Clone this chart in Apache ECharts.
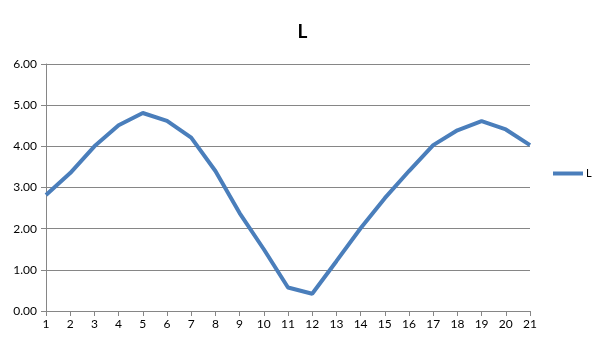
<!DOCTYPE html>
<html><head><meta charset="utf-8">
<script src="https://cdn.jsdelivr.net/npm/echarts@6/dist/echarts.min.js"></script>
<style>html,body{margin:0;padding:0;background:#fff}#c{width:605px;height:340px}</style>
</head><body><div id="c"></div>
<script>
const categories = ['1','2','3','4','5','6','7','8','9','10','11','12','13','14','15','16','17','18','19','20','21'];
const values = [2.82,3.35,4.0,4.51,4.81,4.62,4.21,3.4,2.38,1.5,0.57,0.42,1.21,2.01,2.74,3.4,4.03,4.39,4.61,4.41,4.03];
const yTicks = {min:0, max:6, interval:1};
const chart = echarts.init(document.getElementById('c'));
const F = 'Lato, "Open Sans", sans-serif';
chart.setOption({
  animation:false,
  title:{text:'L', left:'center', top:17, textStyle:{fontFamily:F, fontSize:19, fontWeight:'bold', color:'#000'}},
  legend:{data:['L'], left:548, top:163, itemWidth:30, itemHeight:4, itemGap:5,
    icon:'rect', textStyle:{fontFamily:F, fontSize:11, color:'#000', padding:[0,0,0,-2]}},
  grid:{left:46, right:75, top:64, bottom:29, containLabel:false},
  xAxis:{type:'category', data:categories, boundaryGap:false,
    axisLine:{lineStyle:{color:'#868686'}}, axisTick:{show:true, length:5, lineStyle:{color:'#868686'}},
    axisLabel:{fontFamily:F, fontSize:12, color:'#000', margin:7}},
  yAxis:{type:'value', min:yTicks.min, max:yTicks.max, interval:yTicks.interval,
    axisLine:{show:true, lineStyle:{color:'#868686'}}, axisTick:{show:true, length:5, lineStyle:{color:'#868686'}},
    splitLine:{lineStyle:{color:'#868686'}},
    axisLabel:{fontFamily:F, fontSize:12, color:'#000', margin:9, formatter:v=>v.toFixed(2)}},
  series:[{name:'L', type:'line', data:values, symbol:'none', lineStyle:{width:4, color:'#4a7ebb'}, itemStyle:{color:'#4a7ebb'}}]
});
</script></body></html>
